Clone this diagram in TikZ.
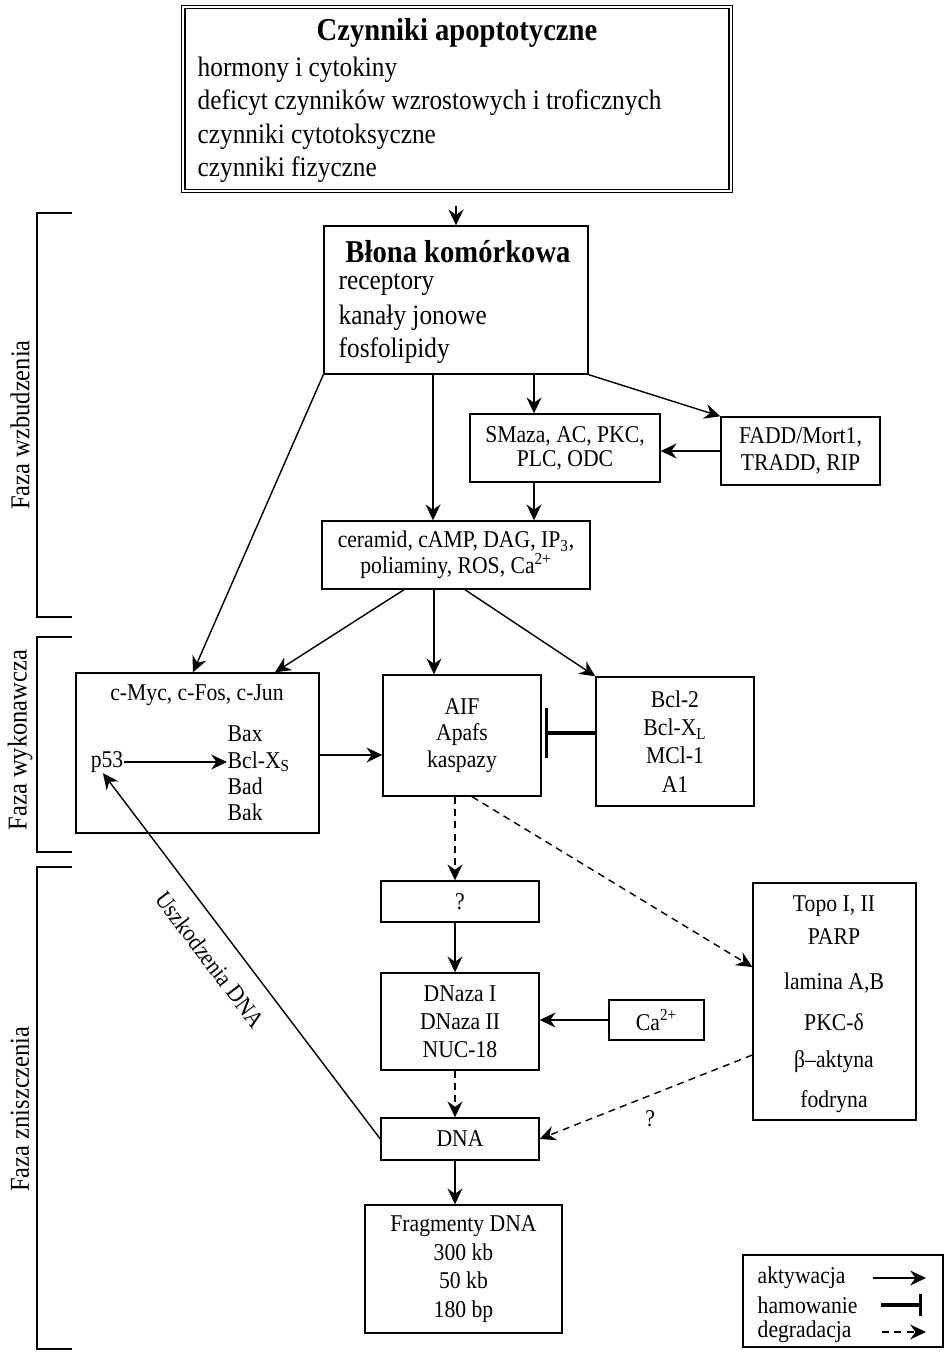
\documentclass[tikz,border=0pt]{standalone}
\usepackage{fontspec}
\setmainfont{Liberation Serif}[FakeStretch=0.9]
\usetikzlibrary{arrows.meta}

\newcommand{\tytul}{\fontsize{18.1}{21}\selectfont\bfseries}
\newcommand{\tekst}{\fontsize{16}{19}\selectfont}
\newcommand{\maly}{\fontsize{13.7}{15}\selectfont}
\newcommand{\boczny}{\fontsize{15.5}{18}\selectfont}

\begin{document}
\begin{tikzpicture}[x=0.02cm, y=-0.02cm, line width=0.8pt,
    box/.style={draw, inner sep=0pt, align=center, font=\maly},
    txt/.style={inner sep=0pt, font=\maly},
    act/.style={-{Stealth[length=9pt, width=8.5pt, inset=3pt]}},
    ract/.style={{Stealth[length=9pt, width=8.5pt, inset=3pt]}-},
    deg/.style={act, dash pattern=on 4pt off 3pt},
    inh/.style={line width=1.8pt, -{Bar[width=29pt]}, shorten >=2pt}]
  \useasboundingbox (0,0) rectangle (945,1352);

  % Czynniki apoptotyczne
  \node[draw, double, double distance=1.6pt, line width=0.6pt,
        minimum width=10.96cm, minimum height=3.68cm] (czyn) at (457,99) {};
  \node[txt, font=\tytul] (czyntyt) at (457,33) {Czynniki apoptotyczne};
  \node[txt, font=\tekst, anchor=west] at (197,70) {hormony i cytokiny};
  \node[txt, font=\tekst, anchor=west] at (197,103) {deficyt czynników wzrostowych i troficznych};
  \node[txt, font=\tekst, anchor=west] at (197,137) {czynniki cytotoksyczne};
  \node[txt, font=\tekst, anchor=west] at (197,170) {czynniki fizyczne};

  % Blona komorkowa
  \node[box, minimum width=5.28cm, minimum height=2.96cm] (blona) at (456,300) {};
  \node[txt, font=\tytul] at (458,252) {Błona komórkowa};
  \node[txt, font=\tekst, anchor=west] at (338,285) {receptory};
  \node[txt, font=\tekst, anchor=west] at (338,318) {kanały jonowe};
  \node[txt, font=\tekst, anchor=west] at (338,351) {fosfolipidy};

  % faza wzbudzenia
  \node[box, minimum width=3.8cm, minimum height=1.36cm] (smaza) at (565,448)
    {SMaza, AC, PKC,\\[-1.4pt]PLC, ODC};
  \node[box, minimum width=3.18cm, minimum height=1.36cm] (fadd) at (800.5,451)
    {FADD/Mort1,\\TRADD, RIP};
  \node[box, minimum width=5.36cm, minimum height=1.36cm] (ceramid) at (456,555)
    {ceramid, cAMP, DAG, IP\textsubscript{3},\\poliaminy, ROS, Ca\textsuperscript{2+}};

  % faza wykonawcza
  \node[box, minimum width=4.86cm, minimum height=3.2cm] (cmyc) at (197.5,753) {};
  \node[txt] (cmyctxt) at (197,695) {c-Myc, c-Fos, c-Jun};
  \node[txt, anchor=west, align=left] (proapo) at (227,773.5)
    {Bax\\Bcl-X\textsubscript{S}\\Bad\\Bak};
  \node[txt] (p53) at (107,762) {p53};
  \node[box, minimum width=3.16cm, minimum height=2.42cm] (aif) at (462,735.5)
    {AIF\\Apafs\\kaspazy};
  \node[box, minimum width=3.16cm, minimum height=2.58cm] (bcl) at (675,741.5)
    {Bcl-2\\[1pt]Bcl-X\textsubscript{L}\\[1pt]MCl-1\\[1pt]A1};

  % faza zniszczenia
  \node[box, minimum width=3.16cm, minimum height=0.82cm] (pyt) at (460,901.5) {?};
  \node[box, minimum width=3.26cm, minimum height=4.74cm] (topo) at (834.5,1001.5) {};
  \node[txt] at (834,906) {Topo I, II};
  \node[txt] at (834,937) {PARP};
  \node[txt] at (834,983) {lamina A,B};
  \node[txt] at (834,1022) {PKC-δ};
  \node[txt] at (834,1062) {β–aktyna};
  \node[txt] at (834,1102) {fodryna};
  \node[box, minimum width=3.16cm, minimum height=1.94cm] (dnaza) at (460,1021.5)
    {DNaza I\\[1pt]DNaza II\\[1pt]NUC-18};
  \node[box, minimum width=1.9cm, minimum height=0.8cm] (ca) at (656.5,1020)
    {Ca\textsuperscript{2+}};
  \node[box, minimum width=3.16cm, minimum height=0.84cm] (dna) at (460,1139) {DNA};
  \node[box, minimum width=3.94cm, minimum height=2.56cm] (frag) at (463.5,1269)
    {Fragmenty DNA\\[1.3pt]300 kb\\[1.3pt]50 kb\\[1.3pt]180 bp};

  % polaczenia
  \draw[act, shorten <=8pt] (blona.north |- czyn.south) -- (blona.north);
  \coordinate (c1) at ([xshift=-0.09cm]cmyc.north);
  \draw[act] (blona.south west) -- (c1);
  \coordinate (c2) at ([xshift=-0.46cm]ceramid.north);
  \draw[act] (c2 |- blona.south) -- (c2);
  \coordinate (s1) at ([xshift=-0.62cm]smaza.north);
  \draw[act] (s1 |- blona.south) -- (s1);
  \draw[act] (blona.south east) -- (fadd.north west);
  \draw[act] (fadd.west) -- (fadd.west -| smaza.east);
  \draw[act] (s1 |- smaza.south) -- (s1 |- ceramid.north);
  \draw[act] ([xshift=-1.04cm]ceramid.south) -- ([xshift=1.55cm]cmyc.north);
  \coordinate (c3) at ([xshift=-0.44cm]ceramid.south);
  \draw[act] (c3) -- (c3 |- aif.north);
  \draw[act] ([xshift=0.18cm]ceramid.south) -- (bcl.north west);
  \draw[act] (p53) -- (p53 -| proapo.west);
  \coordinate (m1) at ([yshift=-0.04cm]cmyc.east);
  \draw[act] (m1) -- (m1 -| aif.west);
  \coordinate (b1) at ([yshift=0.17cm]bcl.west);
  \draw[inh] (b1) -- (b1 -| aif.east);
  \coordinate (a1) at ([xshift=-0.14cm]aif.south);
  \draw[deg] (a1) -- (a1 |- pyt.north);
  \draw[deg] ([xshift=0.2cm]aif.south) -- ([yshift=0.69cm]topo.west);
  \draw[act] (a1 |- pyt.south) -- (a1 |- dnaza.north);
  \draw[act] (ca.west) -- (ca.west -| dnaza.east);
  \draw[deg] (a1 |- dnaza.south) -- (a1 |- dna.north);
  \draw[deg] ([yshift=-1.07cm]topo.west) -- node[txt, pos=0.48, below=0.3cm] {?} (dna.east);
  \draw[act] (a1 |- dna.south) -- (a1 |- frag.north);
  \draw[ract] ([xshift=-0.08cm]p53.south) -- node[txt, sloped, pos=0.465, below=0.36cm]
    {Uszkodzenia DNA} (dna.west);

  % fazy
  \draw (72,213) -- (37,213) -- (37,617) -- (72,617);
  \draw (72,637) -- (37,637) -- (37,852) -- (72,852);
  \draw (72,867) -- (37,867) -- (37,1349) -- (72,1349);
  \node[txt, font=\boczny, rotate=90] at (20,425) {Faza wzbudzenia};
  \node[txt, font=\boczny, rotate=90] at (20,740) {Faza wykonawcza};
  \node[txt, font=\boczny, rotate=90] at (20,1109) {Faza zniszczenia};

  % legenda
  \node[box, minimum width=4.0cm, minimum height=1.84cm] (leg) at (843,1301) {};
  \node[txt, anchor=west] at (757,1278) {aktywacja};
  \node[txt, anchor=west] at (757,1305) {hamowanie};
  \node[txt, anchor=west] at (757,1332) {degradacja};
  \coordinate (l1) at (873,1278);
  \coordinate (l2) at (926,1278);
  \coordinate (l3) at (881,1305);
  \coordinate (l4) at (922,1305);
  \coordinate (l5) at (882,1332);
  \coordinate (l6) at (926,1332);
  \draw[act] (l1) -- (l2);
  \draw[line width=1.8pt, -{Bar[width=13pt]}] (l3) -- (l4);
  \draw[deg] (l5) -- (l6);
\end{tikzpicture}
\end{document}
